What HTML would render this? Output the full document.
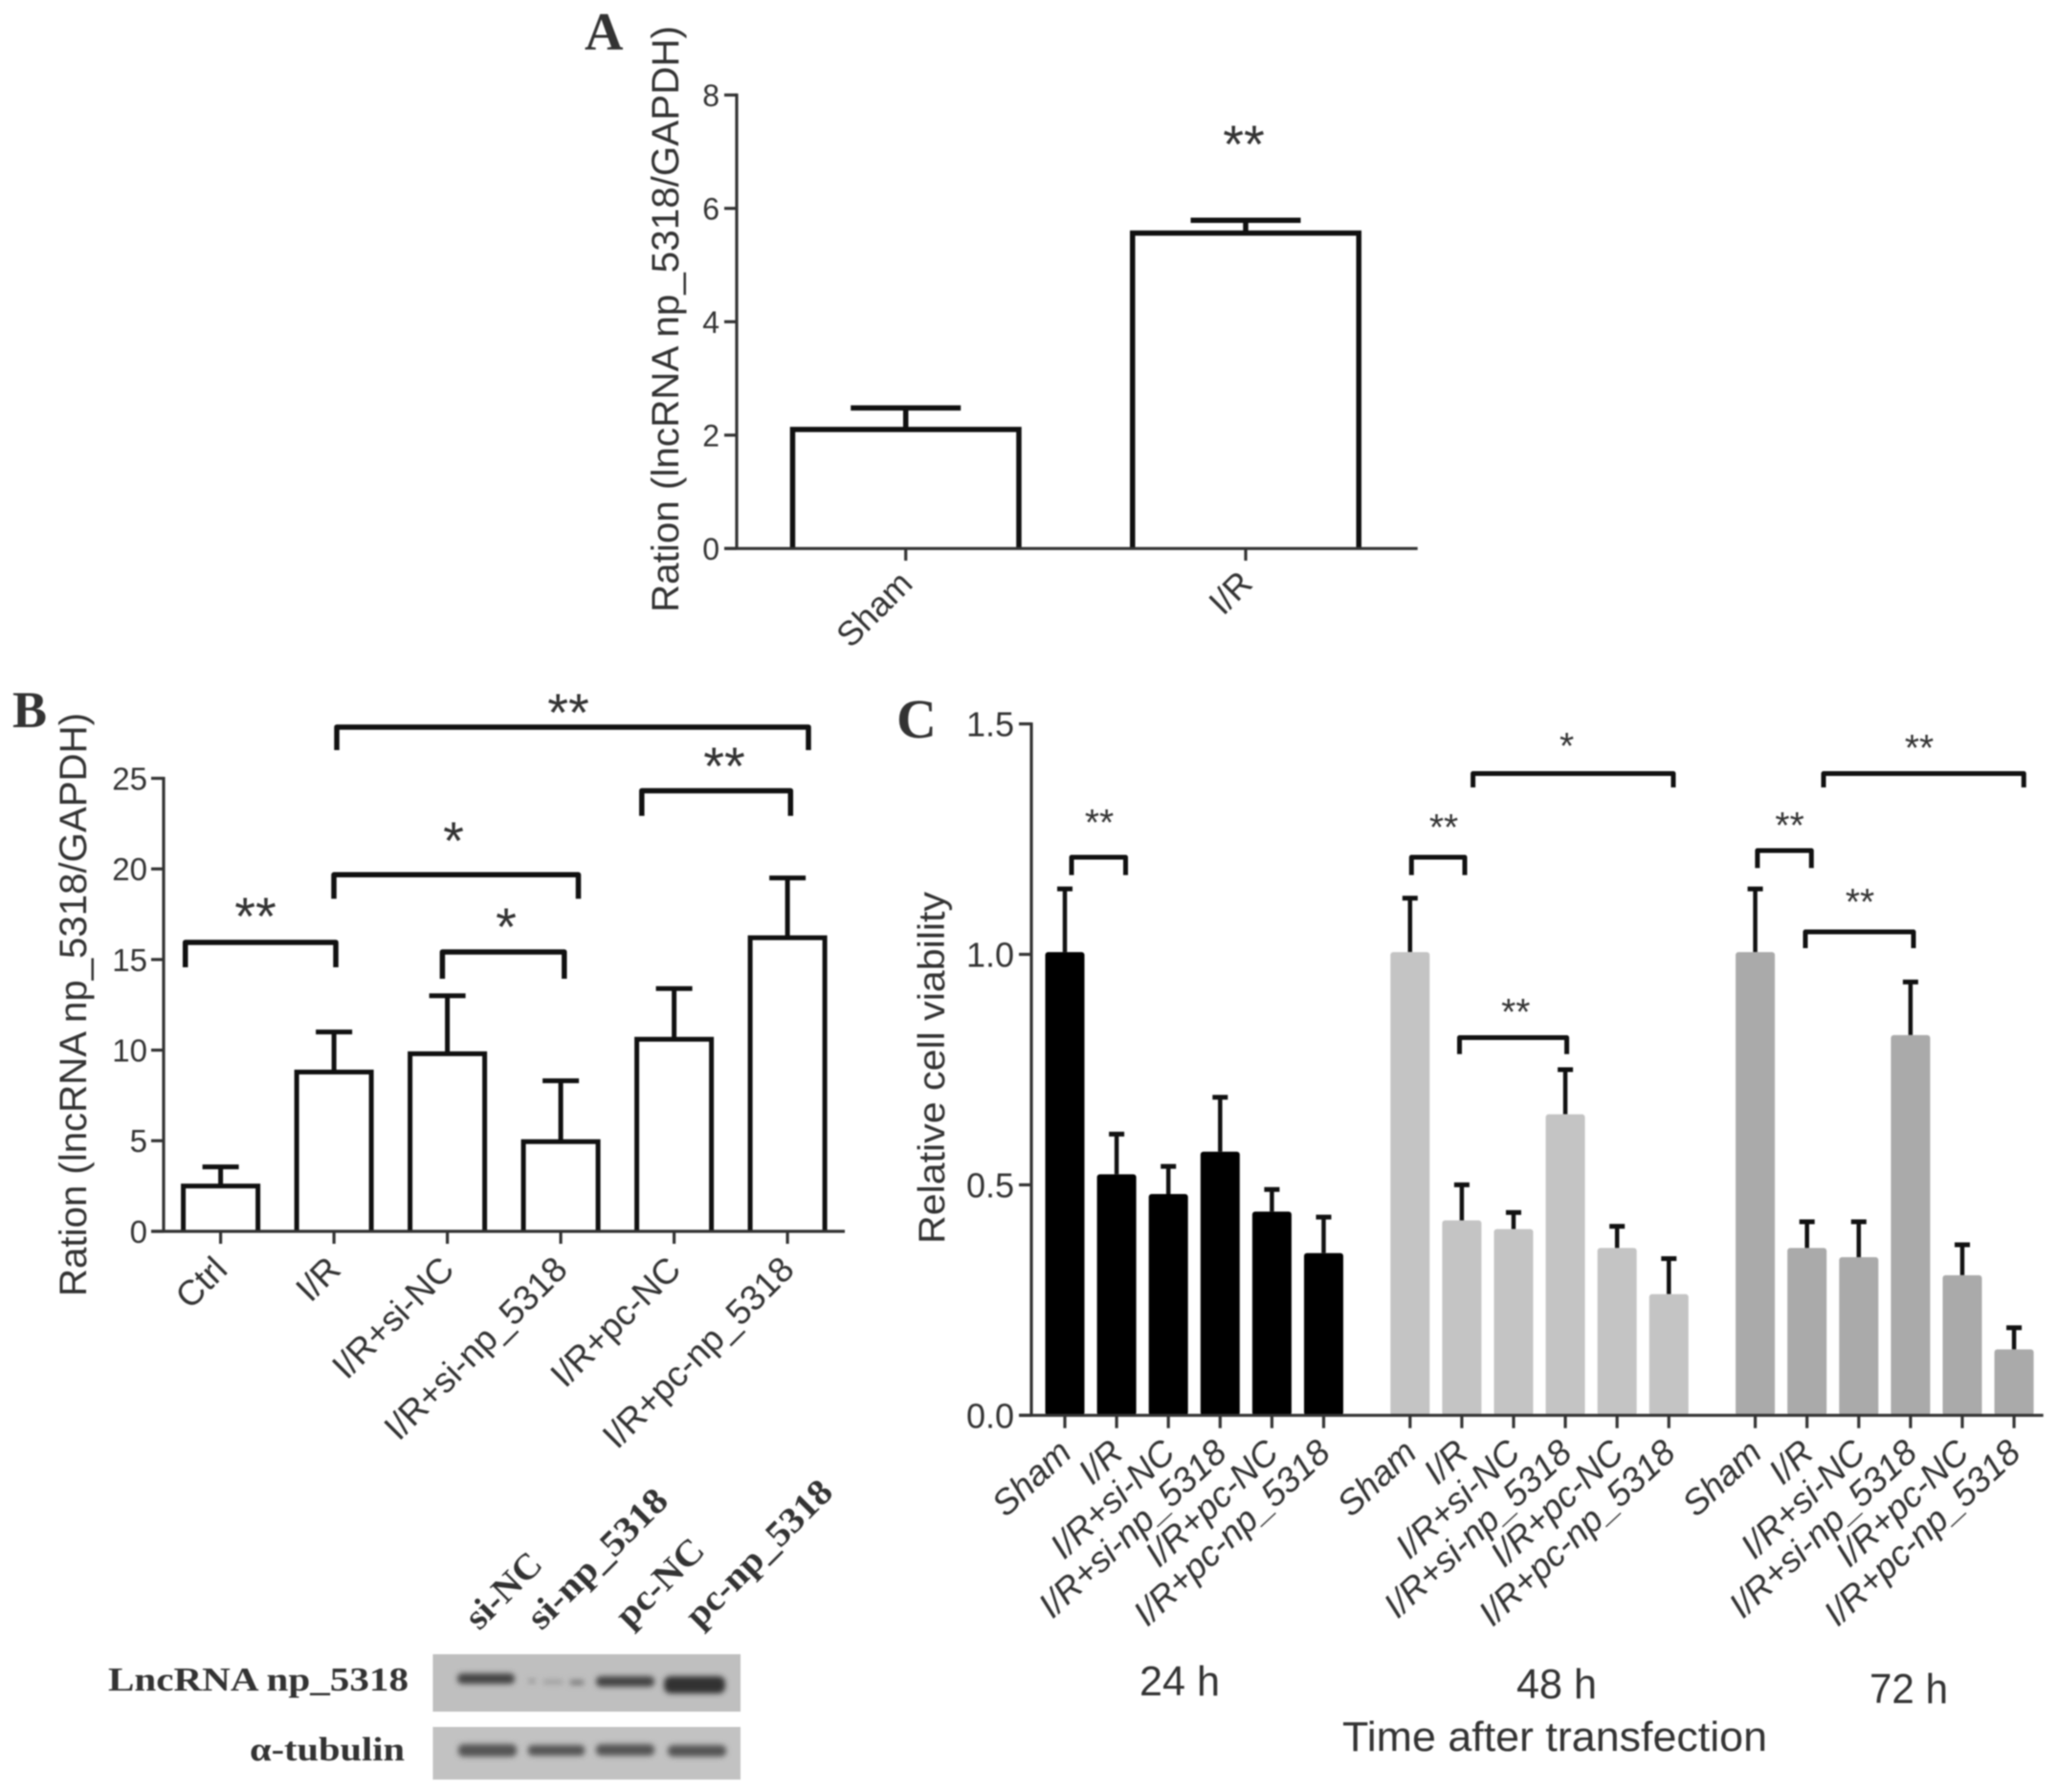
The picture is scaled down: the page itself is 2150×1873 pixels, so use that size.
<!DOCTYPE html>
<html lang="en">
<head>
<meta charset="utf-8">
<title>Panels A, B and C: lncRNA np_5318 expression and cell viability</title>
<style>
html,body{margin:0;padding:0;background:#fff;width:2150px;height:1873px;overflow:hidden}
svg{display:block;filter:blur(.85px)}
text{font-family:"Liberation Sans",sans-serif;fill:#333}
.serif{font-family:"Liberation Serif",serif;font-weight:bold}
.bk{fill:none;stroke:#111;stroke-width:5.5;stroke-linejoin:round}
.bkc{fill:none;stroke:#111;stroke-width:5;stroke-linejoin:round}
</style>
</head>
<body>
<svg id="fig" xmlns="http://www.w3.org/2000/svg" width="2150" height="1873" viewBox="0 0 2150 1873">
<defs>
<filter id="bandBlur" x="-20%" y="-80%" width="140%" height="260%"><feGaussianBlur stdDeviation="2.8"/></filter>
</defs>

<text class="serif" x="611" y="52" font-size="56">A</text>
<text class="serif" x="13" y="760" font-size="54">B</text>
<text class="serif" x="937" y="771" font-size="58">C</text>

<text transform="translate(709,640) rotate(-90)" font-size="40" textLength="613" lengthAdjust="spacingAndGlyphs">Ration (lncRNA np_5318/GAPDH)</text>
<text transform="translate(90,1355) rotate(-90)" font-size="40" textLength="610" lengthAdjust="spacingAndGlyphs">Ration (lncRNA np_5318/GAPDH)</text>
<text transform="translate(987,1300) rotate(-90)" font-size="39" textLength="368" lengthAdjust="spacingAndGlyphs">Relative cell viability</text>

<g id="panelA"></g>
<g id="panelB"></g>
<g id="panelC"></g>

<text x="1300" y="170" font-size="56" text-anchor="middle">**</text>

<g>
<path class="bk" d="M193.7 1011V985H351V1011"/>
<path class="bk" d="M349 939.4V914.3H604.5V939.4"/>
<path class="bk" d="M462.4 1023V995H589.8V1023"/>
<path class="bk" d="M352 784V760H845V784"/>
<path class="bk" d="M670.8 852.7V826.5H826.3V852.7"/>
<text x="267" y="977" font-size="56" text-anchor="middle">**</text>
<text x="474" y="898" font-size="56" text-anchor="middle">*</text>
<text x="529" y="988" font-size="56" text-anchor="middle">*</text>
<text x="594" y="764" font-size="56" text-anchor="middle">**</text>
<text x="757" y="820" font-size="56" text-anchor="middle">**</text>
</g>

<g>
<path class="bkc" d="M1120 914.6V896H1176.5V914.6"/>
<path class="bkc" d="M1475.3 914.6V896H1531V914.6"/>
<path class="bkc" d="M1539.6 823V808.5H1749V823"/>
<path class="bkc" d="M1525.5 1101.8V1084.5H1637.6V1101.8"/>
<path class="bkc" d="M1836.9 907.2V889H1893.3V907.2"/>
<path class="bkc" d="M1887 991V974H2000V991"/>
<path class="bkc" d="M1906 823V808.5H2115.3V823"/>
<text x="1149" y="873" font-size="39" text-anchor="middle">**</text>
<text x="1509" y="878" font-size="39" text-anchor="middle">**</text>
<text x="1637.6" y="793" font-size="39" text-anchor="middle">*</text>
<text x="1584.3" y="1071" font-size="39" text-anchor="middle">**</text>
<text x="1870.6" y="876" font-size="39" text-anchor="middle">**</text>
<text x="1944" y="956" font-size="39" text-anchor="middle">**</text>
<text x="2006" y="795" font-size="39" text-anchor="middle">**</text>
</g>

<text x="1233" y="1772" font-size="44" text-anchor="middle" textLength="84" lengthAdjust="spacingAndGlyphs">24 h</text>
<text x="1627" y="1775" font-size="44" text-anchor="middle" textLength="84" lengthAdjust="spacingAndGlyphs">48 h</text>
<text x="1995" y="1780" font-size="44" text-anchor="middle" textLength="82" lengthAdjust="spacingAndGlyphs">72 h</text>
<text x="1403" y="1830" font-size="44" textLength="444" lengthAdjust="spacingAndGlyphs">Time after transfection</text>

<g>
<text class="serif" transform="translate(501,1705) rotate(-45)" font-size="38" textLength="96" lengthAdjust="spacingAndGlyphs">si-NC</text>
<text class="serif" transform="translate(566,1705) rotate(-45)" font-size="38" textLength="190" lengthAdjust="spacingAndGlyphs">si-np_5318</text>
<text class="serif" transform="translate(658,1703) rotate(-45)" font-size="38" textLength="114" lengthAdjust="spacingAndGlyphs">pc-NC</text>
<text class="serif" transform="translate(731,1703) rotate(-45)" font-size="38" textLength="200" lengthAdjust="spacingAndGlyphs">pc-np_5318</text>
<text class="serif" x="113" y="1767" font-size="35" textLength="314" lengthAdjust="spacingAndGlyphs">LncRNA np_5318</text>
<text class="serif" x="261" y="1840" font-size="35" textLength="162" lengthAdjust="spacingAndGlyphs">α-tubulin</text>
<rect x="452.4" y="1729" width="321.6" height="60" fill="#bfbfbf"/>
<rect x="452.4" y="1805" width="321.6" height="55" fill="#c2c2c2"/>
<g filter="url(#bandBlur)" fill="#444">
<rect x="478" y="1749" width="60" height="11" rx="5"/>
<rect x="553" y="1755" width="6" height="4" fill="#888"/>
<rect x="568" y="1756" width="20" height="4" fill="#999"/>
<rect x="596" y="1756" width="14" height="5" fill="#777"/>
<rect x="623" y="1752" width="61" height="11" rx="5"/>
<rect x="694" y="1752" width="64" height="18" rx="7" fill="#333"/>
<rect x="479" y="1823" width="61" height="13" rx="5" fill="#555"/>
<rect x="552" y="1824" width="59" height="11" rx="4" fill="#555"/>
<rect x="623" y="1823" width="61" height="12" rx="5" fill="#555"/>
<rect x="698" y="1824" width="61" height="12" rx="5" fill="#555"/>
</g>
</g>
</svg>

<script>
var categoriesA = ['Sham', 'I/R'];
var valuesA = [2.1, 5.565];
var errorTopsA = [2.48, 5.79];
var ticksA = [0, 2, 4, 6, 8];

var categoriesB = ['Ctrl', 'I/R', 'I/R+si-NC', 'I/R+si-np_5318', 'I/R+pc-NC', 'I/R+pc-np_5318'];
var valuesB = [2.5, 8.79, 9.8, 4.95, 10.6, 16.2];
var errorTopsB = [3.56, 11.0, 13.0, 8.31, 13.4, 19.5];
var ticksB = [0, 5, 10, 15, 20, 25];

var categoriesC = ['Sham', 'I/R', 'I/R+si-NC', 'I/R+si-np_5318', 'I/R+pc-NC', 'I/R+pc-np_5318'];
var groupsC = ['24 h', '48 h', '72 h'];
var values24h = [1.005, 0.523, 0.48, 0.572, 0.442, 0.352];
var errorTops24h = [1.142, 0.61, 0.54, 0.69, 0.49, 0.43];
var values48h = [1.005, 0.423, 0.404, 0.653, 0.363, 0.263];
var errorTops48h = [1.122, 0.50, 0.44, 0.75, 0.41, 0.34];
var values72h = [1.005, 0.363, 0.343, 0.825, 0.304, 0.143];
var errorTops72h = [1.142, 0.42, 0.42, 0.94, 0.37, 0.19];
var ticksC = ['0.0', '0.5', '1.0', '1.5'];

var SVGNS = 'http://www.w3.org/2000/svg';

function make(parent, tag, attrs, txt) {
  var n = document.createElementNS(SVGNS, tag);
  for (var k in attrs) { n.setAttribute(k, attrs[k]); }
  if (txt !== undefined) { n.textContent = txt; }
  parent.appendChild(n);
  return n;
}
function slug(s) { return s.toLowerCase().replace(/[^a-z0-9]+/g, '-'); }

function yA(v) { return 573.3 - v * 59.25; }
function xA(i) { return 946.7 + i * 355.3; }
function yB(v) { return 1287 - v * 18.94; }
function xB(i) { return 230.6 + i * 118.5; }
function yC(v) { return 1479.3 - v * 481.8; }
function xC(g, i) { return 1113 + g * 360.8 + i * 54.1; }

function drawAxes(g, prefix, x0, y0, xEnd, tickLeft, tickValues, yFn, tickSize, labelX) {
  var ya = make(g, 'line', { x1: x0, x2: x0, y1: yFn(Number(tickValues[tickValues.length - 1])) - 1.5, y2: y0, stroke: '#333', 'stroke-width': 3.2 });
  
  
  var xa = make(g, 'line', { x1: tickLeft, x2: xEnd, y1: y0, y2: y0, stroke: '#333', 'stroke-width': 3.2 });
  
  
  tickValues.forEach(function (t) {
    var ty = yFn(Number(t));
    var tk = make(g, 'line', { x1: tickLeft, x2: x0, y1: ty, y2: ty, stroke: '#333', 'stroke-width': 3.2 });
    
    
    var lb = make(g, 'text', { x: labelX, y: ty + tickSize * 0.36, 'font-size': tickSize, 'text-anchor': 'end' }, t);
    
    
  });
}

function drawOutlineBar(g, prefix, cat, cx, val, top, y0, w, capW, sw, yFn) {
  var s = make(g, 'line', { x1: cx, x2: cx, y1: yFn(top), y2: yFn(val), stroke: '#111', 'stroke-width': sw });
  
  
  var c = make(g, 'line', { x1: cx - capW / 2, x2: cx + capW / 2, y1: yFn(top), y2: yFn(top), stroke: '#111', 'stroke-width': sw });
  
  
  var d = 'M' + (cx - w / 2) + ' ' + y0 + 'V' + yFn(val) + 'H' + (cx + w / 2) + 'V' + y0;
  var r = make(g, 'path', { d: d, fill: '#fff', stroke: '#111', 'stroke-width': sw });
  
  
}

function drawXTick(g, prefix, cat, cx, y0, yEnd) {
  var t = make(g, 'line', { x1: cx, x2: cx, y1: y0, y2: yEnd, stroke: '#333', 'stroke-width': 3.2 });
  
  
}

function drawXLabel(g, prefix, cat, ex, ey, size, italic, angle) {
  var a = { transform: 'translate(' + ex + ',' + ey + ') rotate(' + angle + ')', 'font-size': size, 'text-anchor': 'end' };
  if (italic) { a['font-style'] = 'italic'; }
  var l = make(g, 'text', a, cat);
  
  
}

var gA = document.getElementById('panelA');
categoriesA.forEach(function (cat, i) {
  drawOutlineBar(gA, 'panel-a', cat, xA(i), valuesA[i], errorTopsA[i], yA(0), 236.5, 115, 5.5, yA);
  drawXTick(gA, 'panel-a', cat, xA(i), yA(0), 586);
  drawXLabel(gA, 'panel-a', cat, xA(i) + 9, 612, 36, false, -45);
});
drawAxes(gA, 'panel-a', 770, yA(0), 1481.7, 757, ticksA.map(String), function (v) { return yA(v); }, 32, 752);

var gB = document.getElementById('panelB');
categoriesB.forEach(function (cat, i) {
  drawOutlineBar(gB, 'panel-b', cat, xB(i), valuesB[i], errorTopsB[i], yB(0), 78, 38, 5, yB);
  drawXTick(gB, 'panel-b', cat, xB(i), yB(0), 1300);
  drawXLabel(gB, 'panel-b', cat, xB(i) + 9, 1329, 37, false, -45);
});
drawAxes(gB, 'panel-b', 171, yB(0), 883, 158, ticksB.map(String), function (v) { return yB(v); }, 33, 154);

var gC = document.getElementById('panelC');
var seriesC = [[values24h, errorTops24h, '#000000'], [values48h, errorTops48h, '#c4c4c4'], [values72h, errorTops72h, '#aaaaaa']];
seriesC.forEach(function (ser, g) {
  var prefix = 'panel-c-' + slug(groupsC[g]);
  categoriesC.forEach(function (cat, i) {
    var cx = xC(g, i);
    var st = make(gC, 'line', { x1: cx, x2: cx, y1: yC(ser[1][i]), y2: yC(ser[0][i]), stroke: '#111', 'stroke-width': 4.5 });
    
    
    var cp = make(gC, 'line', { x1: cx - 8, x2: cx + 8, y1: yC(ser[1][i]), y2: yC(ser[1][i]), stroke: '#111', 'stroke-width': 5 });
    
    
    var b = make(gC, 'rect', { x: cx - 20.5, y: yC(ser[0][i]), width: 41, height: yC(0) - yC(ser[0][i]), rx: 3, fill: ser[2] });
    
    
    drawXTick(gC, prefix, cat, cx, yC(0), 1492.7);
    drawXLabel(gC, prefix, cat, cx + 9, 1521, 37, true, -43);
  });
});
drawAxes(gC, 'panel-c', 1078, yC(0), 2135.7, 1065, ticksC, function (v) { return yC(v); }, 36, 1060);
</script>
</body>
</html>
